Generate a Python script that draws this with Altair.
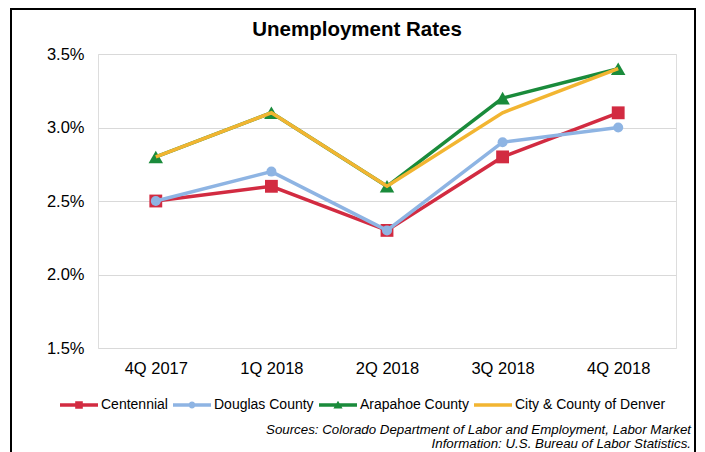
import altair as alt
import pandas as pd

quarters = ["4Q 2017", "1Q 2018", "2Q 2018", "3Q 2018", "4Q 2018"]
series = ["Centennial", "Douglas County", "Arapahoe County", "City & County of Denver"]
centennial = [2.5, 2.6, 2.3, 2.8, 3.1]
douglas = [2.5, 2.7, 2.3, 2.9, 3.0]
arapahoe = [2.8, 3.1, 2.6, 3.2, 3.4]
denver = [2.8, 3.1, 2.6, 3.1, 3.4]
colors = ["#D22B41", "#8EB4E3", "#1A8B3B", "#F2B531"]
markers = ["square", "circle", "triangle-up", None]
marker_sizes = [165, 100, 210, 0]
y_ticks = [1.5, 2.0, 2.5, 3.0, 3.5]
title_text = "Unemployment  Rates"
source_lines = [
    "Sources: Colorado Department of Labor and Employment, Labor Market",
    "Information: U.S. Bureau of Labor Statistics.",
]

values = [centennial, douglas, arapahoe, denver]
rows = []
for s, vals, c in zip(series, values, colors):
    for q, v in zip(quarters, vals):
        rows.append({"quarter": q, "rate": v, "series": s, "color": c})
df = pd.DataFrame(rows)

FONT = "Liberation Sans"

# legend symbol paths (line + marker), all drawn clockwise so they union
line_path = "M-4.75,-0.45H4.75V0.45H-4.75Z"
legend_shapes = [
    line_path + " M-0.95,-0.95H0.95V0.95H-0.95Z",
    line_path + " M-0.85,0A0.85,0.85 0 1,1 0.85,0A0.85,0.85 0 1,1 -0.85,0Z",
    line_path + " M0,-1.05L1.15,0.9H-1.15Z",
    line_path,
]

x_enc = alt.X("quarter:N", sort=quarters,
              scale=alt.Scale(type="point", padding=0.5),
              axis=alt.Axis(title=None, labelAngle=0, ticks=False, domain=False,
                            grid=False, labelPadding=12, labelFontSize=16.5,
                            labelColor="#000000", labelFont=FONT))
y_enc = alt.Y("rate:Q", scale=alt.Scale(domain=[1.5, 3.5]),
              axis=alt.Axis(title=None, values=y_ticks, ticks=False, domain=False,
                            grid=True, gridColor="#D9D9D9", gridWidth=1,
                            labelPadding=14, labelFontSize=16.5, labelColor="#000000",
                            labelFont=FONT,
                            labelExpr="format(datum.value, '.1f') + '%'"))

base = alt.Chart(df)
layers = []
for s, m, ms in zip(series, markers, marker_sizes):
    sub = base.transform_filter(alt.datum.series == s)
    layers.append(
        sub.mark_line(strokeWidth=3.5).encode(
            x=x_enc, y=y_enc, color=alt.Color("color:N", scale=None)
        )
    )
    if m is not None:
        layers.append(
            sub.mark_point(filled=True, opacity=1, shape=m, size=ms).encode(
                x=x_enc, y=y_enc, color=alt.Color("color:N", scale=None)
            )
        )

legend_layer = base.mark_point(filled=True, opacity=0).encode(
    x=x_enc, y=y_enc,
    color=alt.Color("series:N", sort=series,
                    scale=alt.Scale(domain=series, range=colors),
                    legend=alt.Legend(title=None, orient="none", direction="horizontal",
                                      columns=4, legendX=-26, legendY=344,
                                      symbolSize=64, symbolOpacity=1,
                                      symbolStrokeWidth=0, labelOffset=15,
                                      columnPadding=5, labelFontSize=14,
                                      labelFont=FONT, labelColor="#000000",
                                      padding=0)),
    shape=alt.Shape("series:N", sort=series,
                    scale=alt.Scale(domain=series, range=legend_shapes)),
)

one = pd.DataFrame({"i": [0]})
title_layer = alt.Chart(one).mark_text(
    align="center", baseline="middle", fontWeight="bold", fontSize=20.5,
    font=FONT, color="#000000"
).encode(x=alt.value(259), y=alt.value(-24), text=alt.value(title_text))

source_layer = alt.Chart(one).mark_text(
    align="right", baseline="middle", fontStyle="italic", fontSize=13.3,
    font=FONT, color="#000000", lineHeight=14
).encode(x=alt.value(593), y=alt.value(376), text=alt.value(source_lines))

frame_layer = alt.Chart(one).mark_rect(
    fillOpacity=0, stroke="#000000", strokeWidth=2
).encode(x=alt.value(-87), x2=alt.value(597), y=alt.value(-45), y2=alt.value(430))

chart = alt.layer(legend_layer, *layers, title_layer, source_layer, frame_layer).properties(
    width=578, height=294,
    autosize=alt.AutoSizeParams(type="none"),
    padding={"left": 90, "top": 46, "right": 21, "bottom": 112},
).configure_view(stroke="#D9D9D9", strokeWidth=1).configure(background="#FFFFFF")

chart.save("out.html", embed_options={"renderer": "svg", "actions": False})
